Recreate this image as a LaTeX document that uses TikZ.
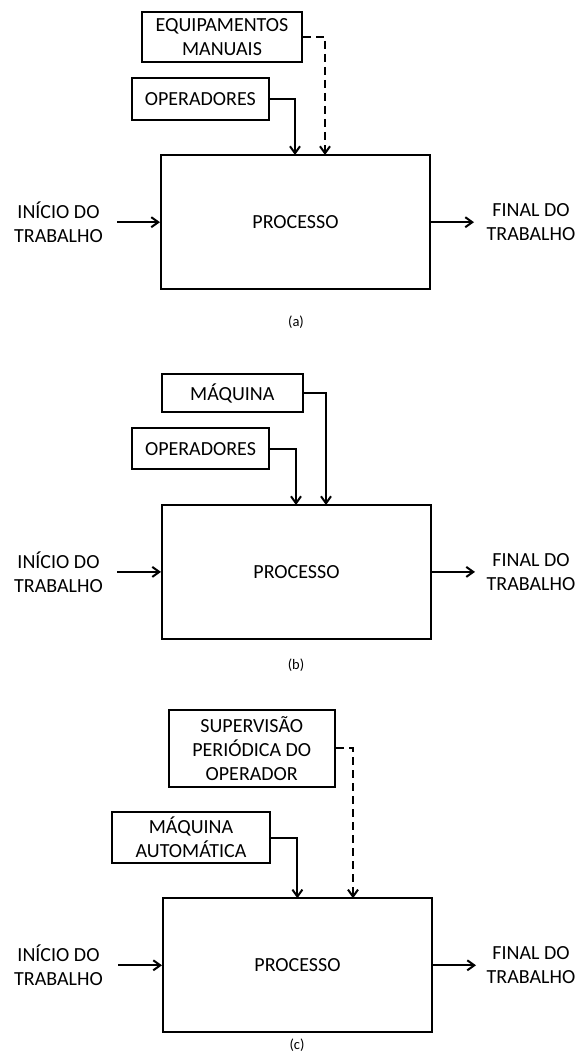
\documentclass[tikz,border=0pt]{standalone}
\usepackage{fontspec}
\setmainfont{Carlito}
\usetikzlibrary{arrows.meta}
\begin{document}
\begin{tikzpicture}[x=1pt,y=-1pt,
 box/.style={draw, line width=2pt, inner sep=0pt, align=center, font=\fontsize{20}{24}\selectfont},
 lbl/.style={align=center, inner sep=0pt, font=\fontsize{20}{24}\selectfont},
 captxt/.style={inner sep=0pt, font=\fontsize{14.5}{17}\selectfont},
 conn/.style={line width=2pt, -{Straight Barb[length=7pt,width=10pt]}},
 dconn/.style={conn, dash pattern=on 8pt off 5pt}]
\useasboundingbox[fill=white] (0,0) rectangle (581,1062);
% ---------- (a)
\node[box, minimum width=160pt, minimum height=50.6pt] (equipA) at (222,37) {EQUIPAMENTOS\\MANUAIS};
\node[box, minimum width=137.5pt, minimum height=41.7pt] (operA) at (200.3,99.2) {OPERADORES};
\node[box, minimum width=269pt, minimum height=134.3pt] (procA) at (295.5,222.2) {PROCESSO};
\node[lbl] (inA) at (58.5,222.5) {INÍCIO DO\\TRABALHO};
\node[lbl] (outA) at (531,222.5) {FINAL DO\\TRABALHO};
\node[captxt] (capA) at (296,321.7) {(a)};
\coordinate (ta1) at (295,155);
\coordinate (ta2) at (325,155);
\coordinate (sa) at (117,222.2);
\coordinate (ea) at (474,222.2);
\draw[conn] (operA.east) -| (ta1);
\draw[dconn] (equipA.east) -| (ta2);
\draw[conn] (sa) -- (procA.west);
\draw[conn] (procA.east) -- (ea);
% ---------- (b)
\node[box, minimum width=140.6pt, minimum height=38pt] (maqB) at (232.3,393) {MÁQUINA};
\node[box, minimum width=137pt, minimum height=41.3pt] (operB) at (200.5,448.7) {OPERADORES};
\node[box, minimum width=269pt, minimum height=133.7pt] (procB) at (296.5,571.9) {PROCESSO};
\node[lbl] (inB) at (58.5,572) {INÍCIO DO\\TRABALHO};
\node[lbl] (outB) at (531,572) {FINAL DO\\TRABALHO};
\node[captxt] (capB) at (296,665) {(b)};
\coordinate (tb1) at (296,505);
\coordinate (tb2) at (326,505);
\coordinate (sb) at (117,571.9);
\coordinate (eb) at (475,571.9);
\draw[conn] (operB.east) -| (tb1);
\draw[conn] (maqB.east) -| (tb2);
\draw[conn] (sb) -- (procB.west);
\draw[conn] (procB.east) -- (eb);
% ---------- (c)
\node[box, minimum width=166.5pt, minimum height=76.7pt] (supC) at (251.75,748.3) {SUPERVISÃO\\PERIÓDICA DO\\OPERADOR};
\node[box, minimum width=158pt, minimum height=50.4pt] (maqC) at (191,837.5) {MÁQUINA\\AUTOMÁTICA};
\node[box, minimum width=269pt, minimum height=134pt] (procC) at (297.5,965.3) {PROCESSO};
\node[lbl] (inC) at (58.5,965.5) {INÍCIO DO\\TRABALHO};
\node[lbl] (outC) at (531,965.5) {FINAL DO\\TRABALHO};
\node[captxt] (capC) at (297,1045) {(c)};
\coordinate (tc1) at (297.4,898.3);
\coordinate (tc2) at (353,898.3);
\coordinate (sc) at (118,965.3);
\coordinate (ec) at (476,965.3);
\draw[conn] (maqC.east) -| (tc1);
\draw[dconn] (supC.east) -| (tc2);
\draw[conn] (sc) -- (procC.west);
\draw[conn] (procC.east) -- (ec);
\end{tikzpicture}
\end{document}
